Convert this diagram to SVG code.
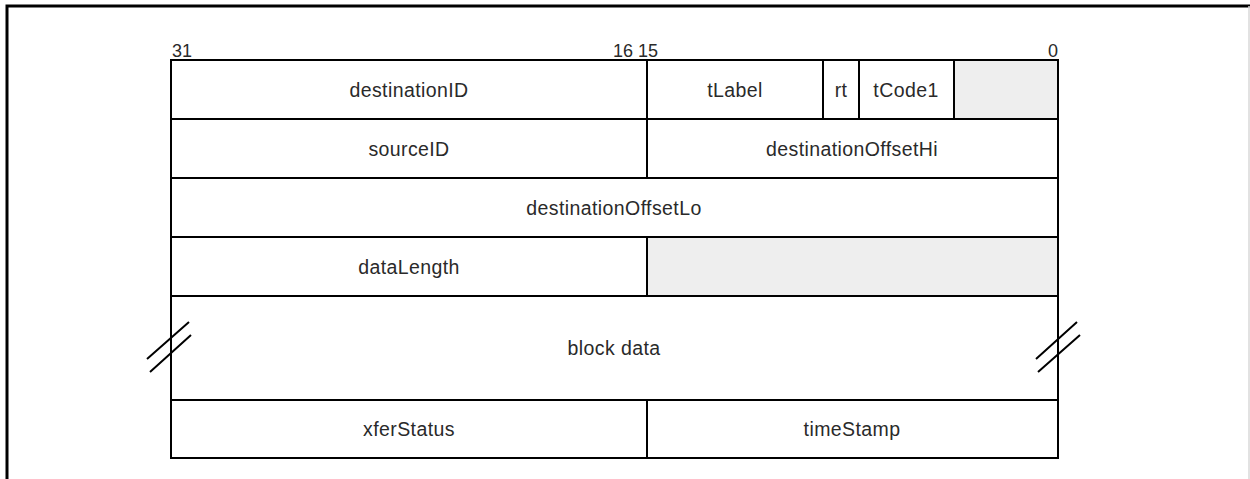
<svg xmlns="http://www.w3.org/2000/svg" width="1250" height="479" viewBox="0 0 1250 479">
<style>
.c{fill:#fff;stroke:#000;stroke-width:2}
.g{fill:#eeeeee;stroke:#000;stroke-width:2}
.t{font-family:"Liberation Sans",Arial,sans-serif;font-size:19.5px;letter-spacing:0.4px;fill:#2a2a2a;text-anchor:middle}
.n{font-family:"Liberation Sans",Arial,sans-serif;font-size:18px;fill:#2a2a2a}
.brk{stroke:#000;stroke-width:2;fill:none}
</style>
<rect width="1250" height="479" fill="#fff"/>
<path d="M7,479 V6 H1250" fill="none" stroke="#000" stroke-width="3"/>
<line x1="1249" y1="6" x2="1249" y2="479" stroke="#d8d8d8" stroke-width="1.5"/>
<g id="bits">
<text class="n" x="172" y="57">31</text>
<text class="n" x="633" y="57" text-anchor="end">16</text>
<text class="n" x="638" y="57">15</text>
<text class="n" x="1058" y="57" text-anchor="end">0</text>
</g>
<g id="destinationID"><rect class="c" x="171" y="60" width="476" height="59"/><text class="t" x="409" y="96.5">destinationID</text></g>
<g id="tLabel"><rect class="c" x="647" y="60" width="176" height="59"/><text class="t" x="735" y="96.5">tLabel</text></g>
<g id="rt"><rect class="c" x="823" y="60" width="36" height="59"/><text class="t" x="841" y="96.5">rt</text></g>
<g id="tCode1"><rect class="c" x="859" y="60" width="95" height="59"/><text class="t" x="906" y="96.5">tCode1</text></g>
<g id="reserved1"><rect class="g" x="954" y="60" width="104" height="59"/></g>
<g id="sourceID"><rect class="c" x="171" y="119" width="476" height="59"/><text class="t" x="409" y="155.5">sourceID</text></g>
<g id="destinationOffsetHi"><rect class="c" x="647" y="119" width="411" height="59"/><text class="t" x="852" y="155.5">destinationOffsetHi</text></g>
<g id="destinationOffsetLo"><rect class="c" x="171" y="178" width="887" height="59"/><text class="t" x="614" y="214.5">destinationOffsetLo</text></g>
<g id="dataLength"><rect class="c" x="171" y="237" width="476" height="59"/><text class="t" x="409" y="273.5">dataLength</text></g>
<g id="reserved2"><rect class="g" x="647" y="237" width="411" height="59"/></g>
<g id="blockData"><rect class="c" x="171" y="296" width="887" height="104"/><text class="t" x="614" y="355">block data</text></g>
<g id="xferStatus"><rect class="c" x="171" y="400" width="476" height="58"/><text class="t" x="409" y="436">xferStatus</text></g>
<g id="timeStamp"><rect class="c" x="647" y="400" width="411" height="58"/><text class="t" x="852" y="436">timeStamp</text></g>
<g id="connectors">
<path class="brk" d="M147,359 L189,322 M150,372 L191,335"/>
<path class="brk" d="M1036,359 L1077,322 M1038,372 L1080,335"/>
</g>
</svg>
